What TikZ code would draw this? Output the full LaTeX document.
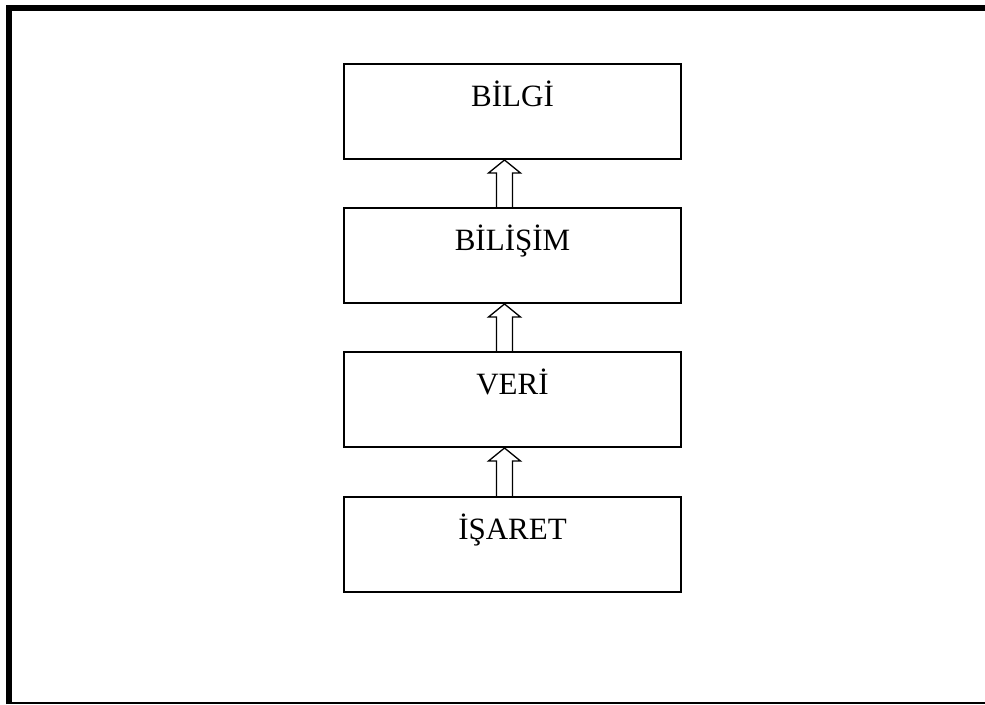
\documentclass[tikz,border=0pt]{standalone}
\usepackage{fontspec}
\setmainfont{Liberation Serif}
\usetikzlibrary{calc}

\tikzset{
  levelbox/.style={draw=black, line width=2pt, minimum width=337pt,
    inner sep=0pt, text height=42pt, text depth=53pt,
    font=\fontsize{31}{37}\selectfont},
  uparrow/.style={draw=black, line width=1.3pt, line join=miter}
}

% hollow block arrow from the top of box #1 up to the bottom of box #2
\newcommand{\blockarrow}[2]{%
  \draw[uparrow]
    ($(#1.north)+(-16pt,0)$) -- ($(#2.south)+(-16pt,-13pt)$)
    -- ($(#2.south)+(-24pt,-13pt)$) -- ($(#2.south)+(-8pt,0)$)
    -- ($(#2.south)+(8pt,-13pt)$) -- ($(#2.south)+(0pt,-13pt)$)
    -- ($(#1.north)+(0pt,0)$);}

\begin{document}
\begin{tikzpicture}[x=1pt, y=-1pt]
  \useasboundingbox (0,0) rectangle (985,704);

  % page frame: heavy left and top rule, thin bottom rule
  \draw[line width=6pt] (9,704) -- (9,8) -- (985,8);
  \draw[line width=2pt] (12,702.5) -- (985,702.5);

  % the four levels
  \node[levelbox] (bilgi)   at (512.5,111.5) {BİLGİ};
  \node[levelbox] (bilisim) at (512.5,255.5) {BİLİŞİM};
  \node[levelbox] (veri)    at (512.5,399.5) {VERİ};
  \node[levelbox] (isaret)  at (512.5,544.5) {İŞARET};

  % arrows pointing upward between levels
  \blockarrow{bilisim}{bilgi}
  \blockarrow{veri}{bilisim}
  \blockarrow{isaret}{veri}
\end{tikzpicture}
\end{document}
